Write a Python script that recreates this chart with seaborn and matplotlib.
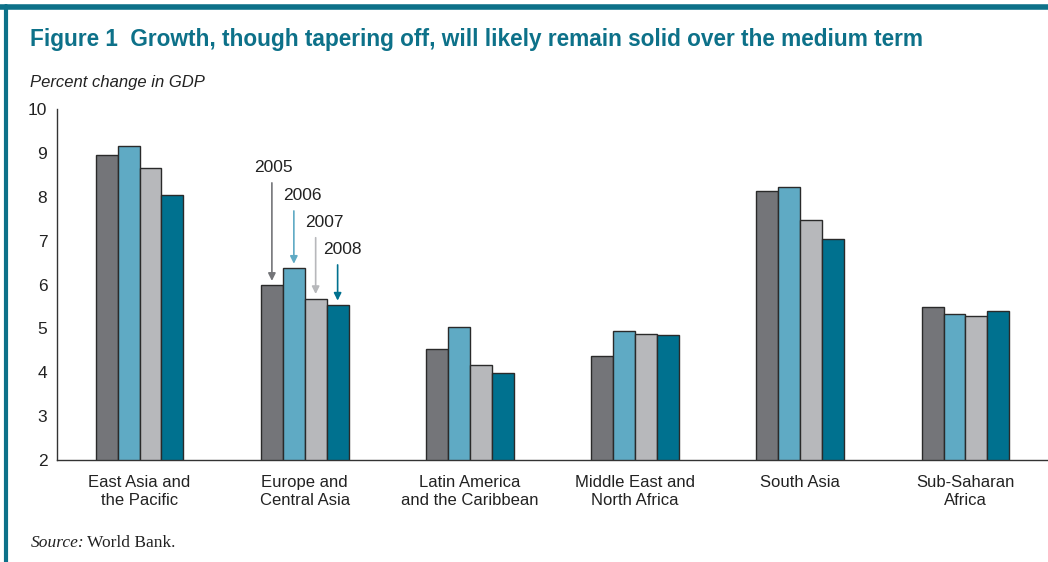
import pandas as pd
import matplotlib.pyplot as plt
import seaborn as sns
import numpy as np
from matplotlib.lines import Line2D

regions = ["East Asia and\nthe Pacific", "Europe and\nCentral Asia", "Latin America\nand the Caribbean",
           "Middle East and\nNorth Africa", "South Asia", "Sub-Saharan\nAfrica"]
years = ["2005", "2006", "2007", "2008"]
g2005 = [8.95, 5.98, 4.52, 4.38, 8.14, 5.48]
g2006 = [9.15, 6.37, 5.04, 4.93, 8.22, 5.32]
g2007 = [8.65, 5.68, 4.16, 4.88, 7.46, 5.28]
g2008 = [8.05, 5.53, 3.99, 4.85, 7.03, 5.39]
colors = ["#747579", "#5faac4", "#b7b8bb", "#00718f"]

data = pd.DataFrame({
    "region": regions * 4,
    "year": [y for y in years for _ in regions],
    "growth": g2005 + g2006 + g2007 + g2008,
})

sns.set_theme(style="white")
plt.rcParams["font.family"] = ["Liberation Sans", "DejaVu Sans"]

fig = plt.figure(figsize=(10.48, 5.62), dpi=100)
ax = fig.add_axes([0.0544, 0.1815, 0.9456, 0.6245])
sns.barplot(data=data, x="region", y="growth", hue="year", hue_order=years, order=regions,
            palette=colors, saturation=1, width=0.53, edgecolor="#2a2a2a", linewidth=1.0,
            ax=ax, legend=False)

ax.set_ylim(2, 10)
ax.set_xlim(-0.5, 5.5)
ax.set_yticks(range(2, 11))
ax.set_xlabel("")
ax.set_ylabel("")
for s in ["top", "right"]:
    ax.spines[s].set_visible(False)
for s in ["left", "bottom"]:
    ax.spines[s].set_color("#333333")
    ax.spines[s].set_linewidth(1.0)
ax.tick_params(axis="y", direction="in", length=7, width=1, color="#333333", labelsize=12.5, pad=7)
ax.tick_params(axis="x", which="major", length=0, labelsize=12, pad=11)
ax.set_xticks(np.arange(-0.5, 6.0, 1.0), minor=True)
ax.tick_params(axis="x", which="minor", direction="out", length=8, width=1, color="#333333")
for lab in ax.get_xticklabels():
    lab.set_linespacing(1.25)
    lab.set_color("#222222")
for lab in ax.get_yticklabels():
    lab.set_color("#222222")

# year call-outs on the Europe group
offs = [-0.199, -0.066, 0.066, 0.199]
europe = [g2005[1], g2006[1], g2007[1], g2008[1]]
starts = [8.38, 7.74, 7.13, 6.51]
txt_dx = [0.01, 0.05, 0.05, 0.03]
for i, y in enumerate(years):
    xb = 1 + offs[i]
    ax.annotate("", xy=(xb, europe[i] + 0.04), xytext=(xb, starts[i]),
                arrowprops=dict(arrowstyle="-|>", color=colors[i], lw=1.2, mutation_scale=11))
    ax.text(xb + txt_dx[i], starts[i] + 0.12, y, ha="center", va="bottom", fontsize=12.5, color="#222222")

teal = "#0d7189"
fig.text(0.029, 0.93, "Figure 1  Growth, though tapering off, will likely remain solid over the medium term",
         fontsize=16.3, fontweight="bold", color=teal, va="center")
fig.text(0.029, 0.853, "Percent change in GDP", fontsize=12, style="italic", color="#222222", va="center")
fig.text(0.029, 0.034, "Source:", fontsize=12.5, style="italic", family="Liberation Serif", color="#222222", va="center")
fig.text(0.083, 0.034, "World Bank.", fontsize=12.5, family="Liberation Serif", color="#222222", va="center")

fig.add_artist(Line2D([0.0, 1.0], [0.987, 0.987], transform=fig.transFigure, color=teal, lw=4))
fig.add_artist(Line2D([0.006, 0.006], [0.99, 0.0], transform=fig.transFigure, color=teal, lw=3))

fig.savefig("out.png", dpi=100)
